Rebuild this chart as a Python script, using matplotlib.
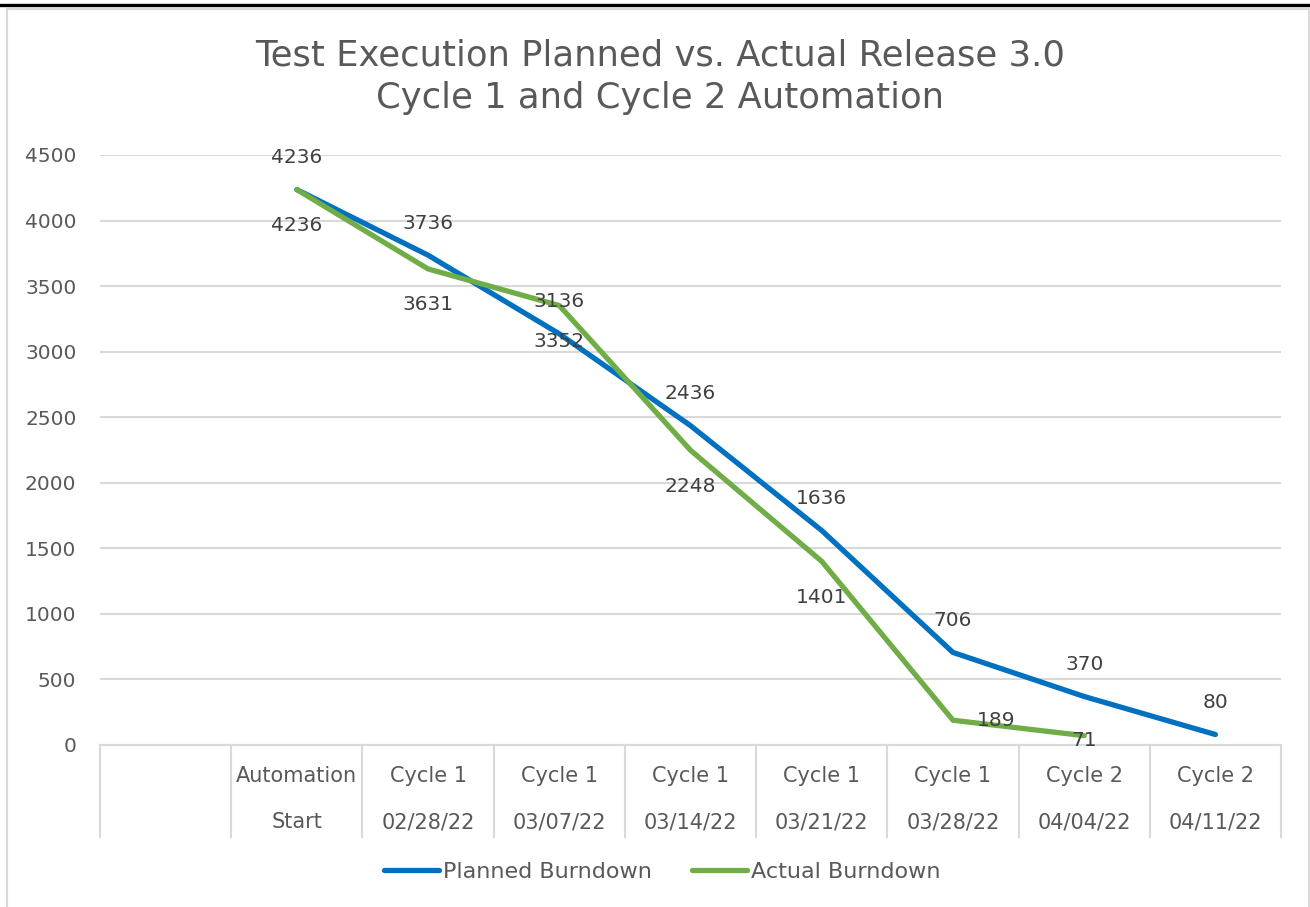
import matplotlib.pyplot as plt
from matplotlib.lines import Line2D
from matplotlib.patches import Rectangle
import matplotlib.transforms as mtransforms

# data
top_labels = ["", "Automation", "Cycle 1", "Cycle 1", "Cycle 1", "Cycle 1",
              "Cycle 1", "Cycle 2", "Cycle 2"]
bottom_labels = ["", "Start", "02/28/22", "03/07/22", "03/14/22", "03/21/22",
                 "03/28/22", "04/04/22", "04/11/22"]
planned = [4236, 3736, 3136, 2436, 1636, 706, 370, 80]
actual = [4236, 3631, 3352, 2248, 1401, 189, 71]
y_ticks = [0, 500, 1000, 1500, 2000, 2500, 3000, 3500, 4000, 4500]

BLUE = "#0070C0"
GREEN = "#70AD47"
GRID = "#D9D9D9"
TXT = "#595959"
LBL = "#404040"

plt.rcParams["font.family"] = ["DejaVu Sans"]

fig = plt.figure(figsize=(13.1, 9.07), dpi=100)
W, H = 1310, 907
ax = fig.add_axes([100 / W, 1 - 745 / H, (1281 - 100) / W, (745 - 155) / H])

# outer frame like the excel chart object
fig.add_artist(Rectangle((6.5 / W, -0.02), (1308.5 - 6.5) / W, 1.02 - 8.5 / H,
                         transform=fig.transFigure, fill=False,
                         edgecolor=GRID, linewidth=1.5))
fig.add_artist(Line2D([0, 1], [1 - 5 / H, 1 - 5 / H], transform=fig.transFigure,
                      color="black", linewidth=2.4))

xs_p = list(range(1, len(planned) + 1))
xs_a = list(range(1, len(actual) + 1))

ax.plot(xs_p, planned, color=BLUE, linewidth=3.8, solid_capstyle="round",
        solid_joinstyle="round", label="Planned Burndown", zorder=3)
ax.plot(xs_a, actual, color=GREEN, linewidth=3.8, solid_capstyle="round",
        solid_joinstyle="round", label="Actual Burndown", zorder=4)

ax.set_xlim(-0.5, len(top_labels) - 0.5)
ax.set_ylim(0, 4500)
ax.set_yticks(y_ticks)
ax.set_yticklabels([str(v) for v in y_ticks])
ax.tick_params(axis="y", length=0, pad=17, labelsize=14.5, labelcolor=TXT)
ax.set_xticks([])
ax.yaxis.grid(True, color=GRID, linewidth=1.5)
ax.set_axisbelow(True)
for s in ["top", "right", "left"]:
    ax.spines[s].set_visible(False)
ax.spines["bottom"].set_color(GRID)
ax.spines["bottom"].set_linewidth(1.5)

# multi-level category axis
trans = mtransforms.blended_transform_factory(ax.transData, ax.transAxes)
for i in range(len(top_labels) + 1):
    ax.plot([i - 0.5, i - 0.5], [0, -92 / 590], color=GRID, linewidth=1.5,
            transform=trans, clip_on=False)
for i, (t, b) in enumerate(zip(top_labels, bottom_labels)):
    ax.text(i, -31 / 590, t, transform=trans, ha="center", va="center",
            fontsize=15, color=TXT)
    ax.text(i, -77 / 590, b, transform=trans, ha="center", va="center",
            fontsize=15, color=TXT)

# data labels
for x, v in zip(xs_p, planned):
    ax.annotate(str(v), (x, v), xytext=(0, 32), textcoords="offset pixels",
                ha="center", va="center", fontsize=14.5, color=LBL, zorder=5)
for x, v in zip(xs_a, actual):
    off = (0, -36)
    if v == 189:
        off = (43, 0)
    elif v == 71:
        off = (0, -5)
    ax.annotate(str(v), (x, v), xytext=off, textcoords="offset pixels",
                ha="center", va="center", fontsize=14.5, color=LBL, zorder=5)

fig.text(660 / W, 1 - 55 / H, "Test Execution Planned vs. Actual Release 3.0",
         ha="center", va="center", fontsize=25.5, color=TXT)
fig.text(660 / W, 1 - 98 / H, "Cycle 1 and Cycle 2 Automation",
         ha="center", va="center", fontsize=25.5, color=TXT)

fig.legend(loc="center", bbox_to_anchor=(662 / W, 1 - 872 / H), ncol=2,
           frameon=False, fontsize=16, handlelength=2.5, handletextpad=0.15,
           columnspacing=1.8, labelcolor=TXT)

fig.savefig("out.png", dpi=100, facecolor="white")
